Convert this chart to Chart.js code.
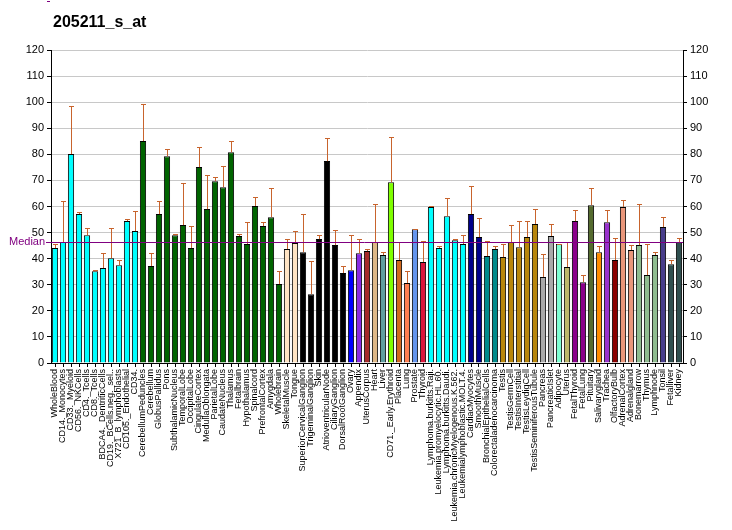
<!DOCTYPE html>
<html>
<head>
<meta charset="utf-8">
<script src="https://cdn.jsdelivr.net/npm/chart.js@4/dist/chart.umd.min.js"></script>
<style>
html,body{margin:0;padding:0;background:#fff;}
#wrap{width:732px;height:530px;}
</style>
</head>
<body>
<div id="wrap"><canvas id="c" width="732" height="530"></canvas></div>
<script>
const chartTitle = "205211_s_at";
const medianValue = 46.4;

const categories = [
  "WholeBlood","CD14._Monocytes","CD33._Myeloid","CD56._NKCells","CD4._Tcells","CD8._Tcells",
  "BDCA4._DentriticCells","CD19._BCells.neg._sel..","X721_B_lymphoblasts","CD105._Endothelial","CD34.",
  "CerebellumPeduncles","Cerebellum","GlobusPallidus","Pons","SubthalamicNucleus","TemporalLobe",
  "OccipitalLobe","CingulateCortex","MedullaOblongata","ParietalLobe","CaudateNucleus","Thalamus",
  "Fetalbrain","Hypothalamus","Spinalcord","PrefrontalCortex","Amygdala","Wholebrain",
  "SkeletalMuscle","Tongue","SuperiorCervicalGanglion","TrigeminalGanglion","Skin",
  "AtrioventricularNode","CiliaryGanglion","DorsalRootGanglion","Ovary","Appendix","UterusCorpus",
  "Heart","Liver","CD71._Early.Erythroid","Placenta","Lung","Prostate","Thyroid",
  "Lymphoma.burkitts.Raji.","Leukemia.promyelocytic.HL.60.","Lymphoma.burkitts.Daudi.",
  "Leukemia.chronicMyelogenous.K.562.","Leukemialymphoblastic.MOLT.4.","CardiacMyocytes",
  "SmoothMuscle","BronchialEpithelialCells","Colorectaladenocarcinoma","Testis","TestisGermCell",
  "TestisInterstitial","TestisLeydigCell","TestisSeminiferousTubule","Pancreas","PancreaticIslet",
  "Adipocyte","Uterus","FetalThyroid","FetalLung","Pituitary","Salivarygland","Trachea",
  "OlfactoryBulb","AdrenalCortex","Adrenalgland","Bonemarrow","Thymus","Lymphnode","Tonsil",
  "Fetalliver","Kidney"
];

const values = [
  44.1,46.4,80.1,57.1,49.0,35.2,36.4,40.2,37.5,54.4,50.6,
  85.1,37.2,57.1,79.3,49.0,52.9,44.1,75.1,59.0,69.7,67.4,80.8,
  48.7,45.6,60.2,52.5,55.9,30.3,
  43.7,46.0,42.5,26.4,47.5,77.4,45.2,34.5,35.6,42.1,42.9,
  46.4,41.4,69.3,39.5,30.7,51.3,38.7,
  59.8,44.1,56.3,47.1,45.6,57.1,48.3,41.0,43.7,
  40.6,46.4,44.4,48.3,53.3,33.0,48.7,
  45.6,36.8,54.4,31.0,60.5,42.5,54.0,39.5,59.8,43.3,45.2,33.7,41.4,52.1,37.9,46.4
];

const errorTop = [
  45.6,62.1,98.5,57.9,51.6,35.5,42.1,51.7,39.5,55.2,58.2,
  99.2,42.1,62.1,82.0,49.4,69.0,52.5,82.8,72.0,71.3,75.5,85.1,
  49.4,54.0,63.6,54.0,67.0,35.2,
  47.5,50.6,57.1,39.1,49.0,86.2,51.0,37.2,49.0,47.5,43.7,
  60.9,42.5,86.6,46.4,35.2,51.3,46.7,
  60.2,44.8,63.2,47.5,49.0,67.8,55.6,46.7,44.8,
  45.6,52.9,54.4,54.4,59.0,41.8,53.3,
  45.6,46.4,58.6,33.7,67.0,44.8,58.6,47.9,62.5,45.2,60.9,45.6,42.5,55.9,39.5,47.9
];

const barColors = [
  "#00FFFF","#00FFFF","#00FFFF","#00FFFF","#00FFFF","#00FFFF","#00FFFF","#00FFFF","#00FFFF","#00FFFF","#00FFFF",
  "#006400","#006400","#006400","#006400","#006400","#006400","#006400","#006400","#006400","#006400","#006400","#006400",
  "#006400","#006400","#006400","#006400","#006400","#006400",
  "#FFE4C4","#FFE4C4","#000000","#000000","#000000","#000000","#000000","#000000",
  "#0000FF","#8A2BE2","#A52A2A","#DEB887","#5F9EA0","#7FFF00","#D2691E","#FF7F50","#6495ED","#DC143C",
  "#00FFFF","#00FFFF","#00FFFF","#00FFFF","#00FFFF",
  "#00008B","#00008B","#008B8B","#008B8B",
  "#B8860B","#B8860B","#B8860B","#B8860B","#B8860B",
  "#A9A9A9","#A9A9A9","#7FFFD4","#BDB76B","#8B008B","#8B008B","#556B2F","#FF8C00","#9932CC",
  "#8B0000","#E9967A","#E9967A","#8FBC8F","#8FBC8F","#8FBC8F","#483D8B","#2F4F4F","#2F4F4F"
];

const yTicks = [0,10,20,30,40,50,60,70,80,90,100,110,120];

const extrasPlugin = {
  id: "extras",
  afterDatasetsDraw(chart) {
    const ctx = chart.ctx;
    const ys = chart.scales.y;
    const meta = chart.getDatasetMeta(0);
    ctx.save();
    // error bars
    ctx.strokeStyle = "#C8642D";
    ctx.lineWidth = 1;
    meta.data.forEach((bar, i) => {
      const x = Math.round(bar.x) + 0.5;
      const y0 = ys.getPixelForValue(values[i]);
      const y1 = Math.round(ys.getPixelForValue(errorTop[i])) + 0.5;
      ctx.beginPath();
      ctx.moveTo(x, y0);
      ctx.lineTo(x, y1);
      ctx.moveTo(x - 2.5, y1);
      ctx.lineTo(x + 2.5, y1);
      ctx.stroke();
    });
    // median line
    const ym = Math.round(ys.getPixelForValue(medianValue)) + 0.5;
    ctx.strokeStyle = "#800080";
    ctx.beginPath();
    ctx.moveTo(46, ym);
    ctx.lineTo(chart.chartArea.right, ym);
    ctx.stroke();
    ctx.fillStyle = "#800080";
    ctx.font = "11px 'Liberation Sans', Arial, sans-serif";
    ctx.textAlign = "left";
    ctx.textBaseline = "middle";
    ctx.fillText("Median", 9, ym - 1);
    // title
    ctx.fillStyle = "#000";
    ctx.font = "bold 16px 'Liberation Sans', Arial, sans-serif";
    ctx.textBaseline = "alphabetic";
    ctx.fillText(chartTitle, 53, 27);
    // small mark top-left
    ctx.strokeStyle = "#800080";
    ctx.beginPath();
    ctx.moveTo(47, 1.5);
    ctx.lineTo(50, 1.5);
    ctx.stroke();
    ctx.restore();
  }
};

new Chart(document.getElementById("c"), {
  type: "bar",
  data: {
    labels: categories,
    datasets: [{
      data: values,
      backgroundColor: barColors,
      borderColor: "#000000",
      borderWidth: 1,
      borderSkipped: "bottom",
      barPercentage: 0.78,
      categoryPercentage: 1.0
    }]
  },
  options: {
    responsive: false,
    animation: false,
    devicePixelRatio: 1,
    layout: { padding: { top: 50, left: 0, right: 0, bottom: 0 } },
    plugins: { legend: { display: false }, tooltip: { enabled: false }, title: { display: false } },
    scales: {
      x: {
        type: "category",
        offset: true,
        grid: { display: true, drawOnChartArea: false, offset: false, color: "#000", tickLength: 4, lineWidth: 1 },
        border: { display: true, color: "#000", width: 1 },
        ticks: {
          autoSkip: false, minRotation: 90, maxRotation: 90, padding: 2,
          color: "#000", font: { family: "'Liberation Sans', Arial, sans-serif", size: 9 }
        },
        afterFit(s) { s.height = 167; }
      },
      y: {
        position: "left",
        min: 0, max: 120,
        afterBuildTicks(s) { s.ticks = yTicks.map(v => ({ value: v })); },
        grid: { color: "#C8C8C8", tickColor: "#000", tickLength: 4, lineWidth: 1 },
        border: { display: true, color: "#000", width: 1 },
        ticks: { color: "#000", padding: 3, font: { family: "'Liberation Sans', Arial, sans-serif", size: 11 } },
        afterFit(s) { s.width = 51; }
      },
      y2: {
        position: "right",
        min: 0, max: 120,
        afterBuildTicks(s) { s.ticks = yTicks.map(v => ({ value: v })); },
        grid: { drawOnChartArea: false, color: "#000", tickLength: 4 },
        border: { display: true, color: "#000", width: 1 },
        ticks: { color: "#000", padding: 3, font: { family: "'Liberation Sans', Arial, sans-serif", size: 11 } },
        afterFit(s) { s.width = 49; }
      }
    }
  },
  plugins: [extrasPlugin]
});
</script>
</body>
</html>
